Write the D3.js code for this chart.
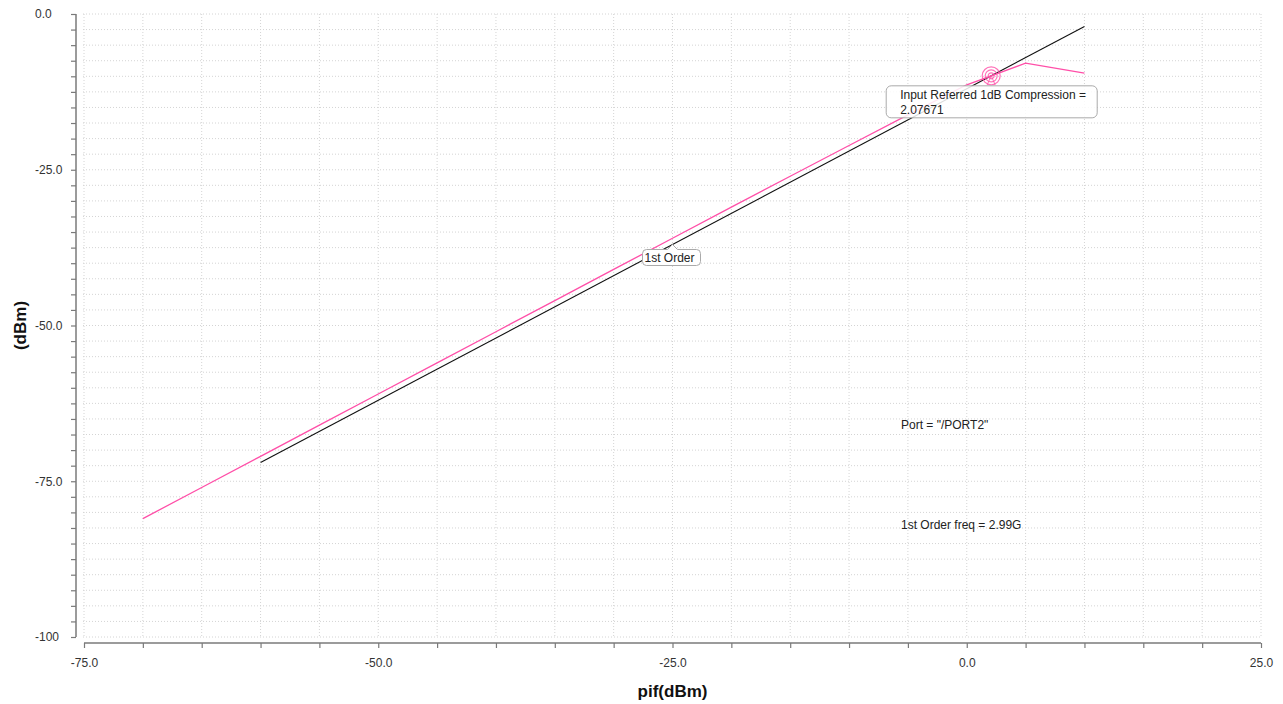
<!DOCTYPE html>
<html>
<head>
<meta charset="utf-8">
<script src="https://cdn.jsdelivr.net/npm/d3@7"></script>
<style>
    body { margin: 0; background: #fff; }
    text { font-family: "Liberation Sans", Arial, sans-serif; }
</style>
</head>
<body>
<script>
// pif sweep (dBm) and output power at PORT2 (dBm)
var pifValues = [-70, -65, -60, -55, -50, -45, -40, -35, -30, -25, -20, -15, -10, -5, 0, 5, 10];
var outputPower = [-81.0, -76.0, -71.0, -66.0, -61.0, -56.0, -51.0, -46.0, -41.0, -36.0, -31.0, -26.05, -21.1, -16.2, -11.36, -7.9, -9.5];

// 1st order extrapolated line (minus 1 dB)
var firstOrderX = [-60, 10];
var firstOrderY = [-72, -2];

var compressionPif = 2.07671;

var xTickValues = [-75, -50, -25, 0, 25];
var xTickLabels = ["-75.0", "-50.0", "-25.0", "0.0", "25.0"];
var yTickValues = [0, -25, -50, -75, -100];
var yTickLabels = ["0.0", "-25.0", "-50.0", "-75.0", "-100"];

function init() {
    var w = 1283;
    var h = 704;
    var pinkColor = "#ff4fa8";
    var axisColor = "#7a7a7a";

    var xScale = d3.scaleLinear()
        .domain([-75, 25])
        .range([84, 1261]);

    var yScale = d3.scaleLinear()
        .domain([-100, 0])
        .range([637, 14]);

    var svg = d3.select("body")
        .append("svg")
        .attr("width", w)
        .attr("height", h);

    // grid
    svg.append("g")
        .selectAll("line")
        .data(d3.range(-75, 25.1, 5))
        .enter()
        .append("line")
        .attr("x1", function (d) { return xScale(d); })
        .attr("x2", function (d) { return xScale(d); })
        .attr("y1", yScale(0))
        .attr("y2", yScale(-100))
        .attr("stroke", "#d4d4d4")
        .attr("stroke-dasharray", "1,2");

    svg.append("g")
        .selectAll("line")
        .data(d3.range(-100, 0.1, 2.5))
        .enter()
        .append("line")
        .attr("x1", xScale(-75) - 1)
        .attr("x2", xScale(25))
        .attr("y1", function (d) { return yScale(d); })
        .attr("y2", function (d) { return yScale(d); })
        .attr("stroke", "#d4d4d4")
        .attr("stroke-dasharray", "1,2");

    // y axis
    var yAxis = d3.axisLeft(yScale)
        .tickValues(d3.range(-100, 0.1, 2.5))
        .tickSize(5)
        .tickFormat(function (d) {
            var i = yTickValues.indexOf(d);
            return i >= 0 ? yTickLabels[i] : "";
        });

    var gy = svg.append("g")
        .attr("transform", "translate(76,0)")
        .call(yAxis);
    gy.select(".domain").attr("stroke", axisColor).attr("stroke-width", 1.5)
        .attr("d", "M0," + yScale(0) + "V" + yScale(-100));
    gy.selectAll(".tick line").attr("stroke", axisColor).attr("stroke-width", 1.2);
    gy.selectAll(".tick text")
        .attr("x", -41)
        .attr("text-anchor", "start")
        .attr("fill", "#333")
        .style("font-size", "12px");

    // x axis
    var xAxis = d3.axisBottom(xScale)
        .tickValues(d3.range(-75, 25.1, 5))
        .tickSize(5)
        .tickFormat(function (d) {
            var i = xTickValues.indexOf(d);
            return i >= 0 ? xTickLabels[i] : "";
        });

    var gx = svg.append("g")
        .attr("transform", "translate(0,643)")
        .call(xAxis);
    gx.select(".domain").attr("stroke", axisColor).attr("stroke-width", 1.5)
        .attr("d", "M" + xScale(-75) + ",0H" + xScale(25));
    gx.selectAll(".tick line").attr("stroke", axisColor).attr("stroke-width", 1.2);
    gx.selectAll(".tick text")
        .attr("y", 15)
        .attr("fill", "#333")
        .style("font-size", "12px");

    // axis titles
    svg.append("text")
        .attr("transform", "translate(26," + yScale(-50) + ") rotate(-90)")
        .attr("text-anchor", "middle")
        .style("font-size", "17px")
        .style("font-weight", "bold")
        .attr("fill", "#111")
        .text("(dBm)");

    svg.append("text")
        .attr("x", xScale(-25))
        .attr("y", 697)
        .attr("text-anchor", "middle")
        .style("font-size", "17px")
        .style("font-weight", "bold")
        .attr("fill", "#111")
        .text("pif(dBm)");

    // curves
    var line = d3.line()
        .x(function (d) { return xScale(d[0]); })
        .y(function (d) { return yScale(d[1]); });

    svg.append("path")
        .datum(d3.zip(firstOrderX, firstOrderY))
        .attr("d", line)
        .attr("fill", "none")
        .attr("stroke", "#111")
        .attr("stroke-width", 1.1);

    svg.append("path")
        .datum(d3.zip(pifValues, outputPower))
        .attr("d", line)
        .attr("fill", "none")
        .attr("stroke", pinkColor)
        .attr("stroke-width", 1.3);

    // compression marker
    var i = d3.bisectLeft(pifValues, compressionPif);
    var t = (compressionPif - pifValues[i - 1]) / (pifValues[i] - pifValues[i - 1]);
    var compressionOut = d3.interpolateNumber(outputPower[i - 1], outputPower[i])(t);
    var mx = xScale(compressionPif);
    var my = yScale(compressionOut);

    var marker = svg.append("g")
        .attr("transform", "translate(" + mx + "," + my + ")");
    [3, 6, 9].forEach(function (r) {
        marker.append("circle")
            .attr("r", r)
            .attr("fill", "none")
            .attr("stroke", pinkColor)
            .attr("stroke-opacity", 0.8)
            .attr("stroke-width", 1.2);
    });
    marker.append("path")
        .attr("d", "M-4,9L0,0L4,9")
        .attr("fill", "none")
        .attr("stroke", pinkColor)
        .attr("stroke-opacity", 0.8);

    // compression label
    var box = svg.append("g")
        .attr("transform", "translate(" + (mx - 105) + "," + (my + 10) + ")");
    box.append("rect")
        .attr("width", 211)
        .attr("height", 32)
        .attr("rx", 5)
        .attr("fill", "#fff")
        .attr("fill-opacity", 0.85)
        .attr("stroke", "#aaa");
    box.append("text")
        .attr("x", 14)
        .attr("y", 13)
        .style("font-size", "12px")
        .attr("fill", "#222")
        .text("Input Referred 1dB Compression =");
    box.append("text")
        .attr("x", 14)
        .attr("y", 28)
        .style("font-size", "12px")
        .attr("fill", "#222")
        .text(compressionPif.toFixed(5));

    // 1st order label
    var px = xScale(-25);
    var py = yScale(-25 - 12);
    var lbl = svg.append("g")
        .attr("transform", "translate(" + px + "," + py + ")");
    lbl.append("path")
        .attr("d", "M-26,5H-5L0,0L5,5H24Q28,5 28,9V17Q28,21 24,21H-26Q-30,21 -30,17V9Q-30,5 -26,5Z")
        .attr("fill", "#fff")
        .attr("stroke", "#aaa");
    lbl.append("text")
        .attr("x", -28)
        .attr("y", 17)
        .style("font-size", "12px")
        .attr("fill", "#222")
        .text("1st Order");

    // info texts
    svg.append("text")
        .attr("x", 901)
        .attr("y", 429)
        .style("font-size", "12px")
        .attr("fill", "#222")
        .text("Port = \"/PORT2\"");

    svg.append("text")
        .attr("x", 901)
        .attr("y", 529)
        .style("font-size", "12px")
        .attr("fill", "#222")
        .text("1st Order freq = 2.99G");
}

window.onload = init;
</script>
</body>
</html>
